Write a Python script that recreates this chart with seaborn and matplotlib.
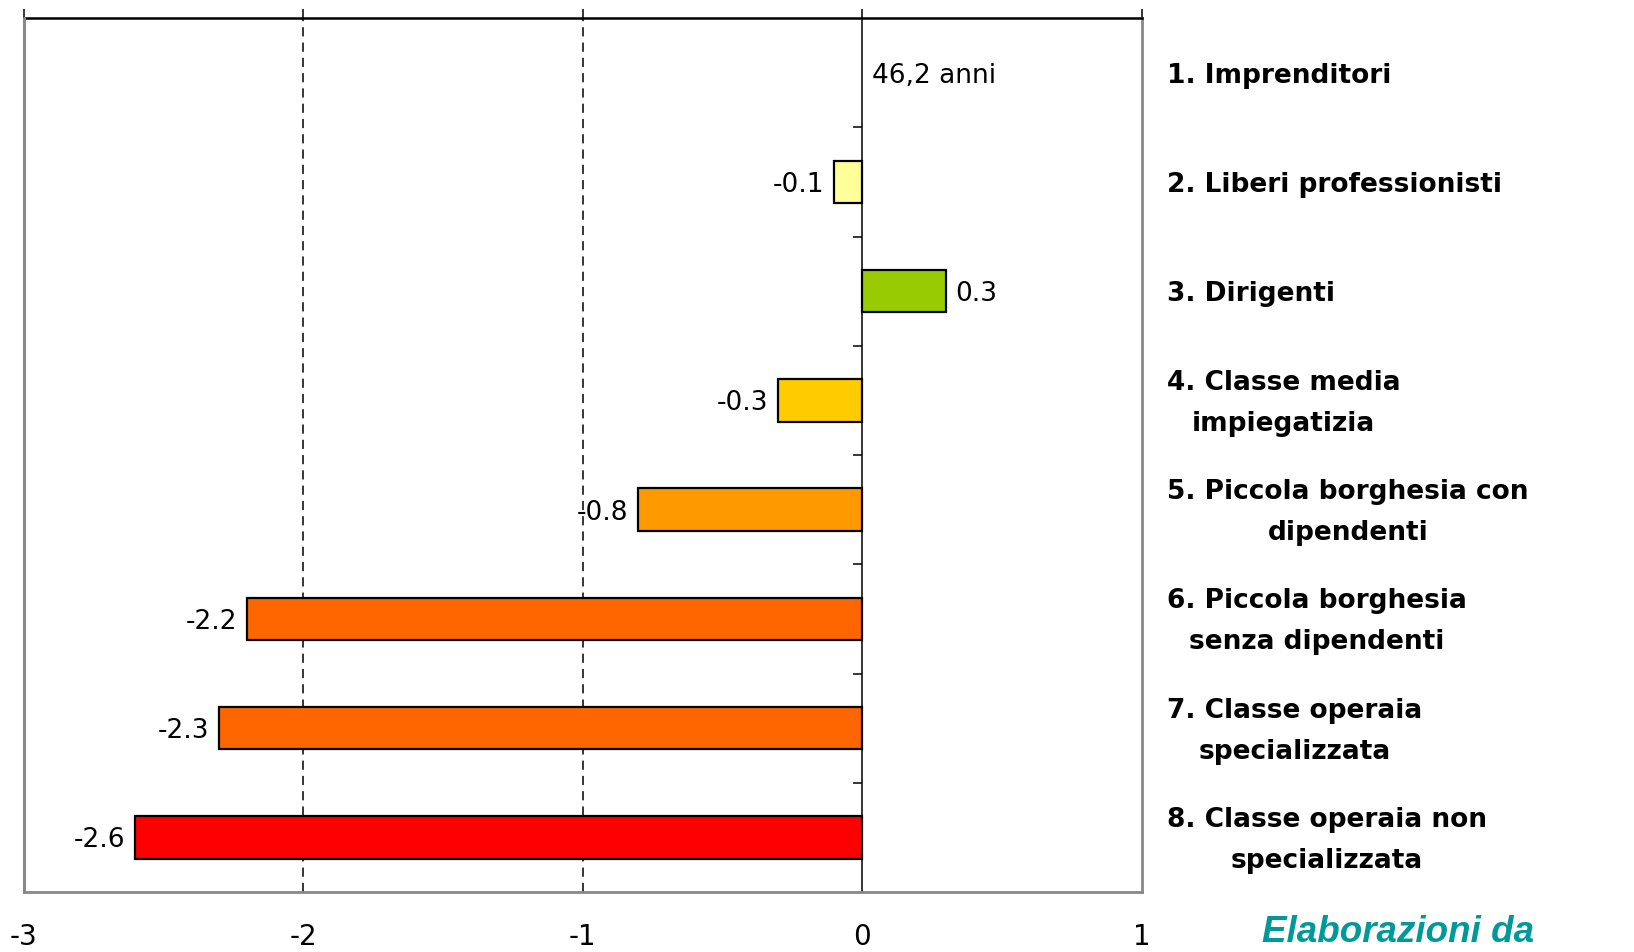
import matplotlib
matplotlib.use("Agg")
import matplotlib.pyplot as plt
from matplotlib.lines import Line2D
import seaborn as sns
import pandas as pd

# Categories (top to bottom), differences in years vs. reference class, colours
categories = [
    "1. Imprenditori",
    "2. Liberi professionisti",
    "3. Dirigenti",
    "4. Classe media\nimpiegatizia",
    "5. Piccola borghesia con\ndipendenti",
    "6. Piccola borghesia\nsenza dipendenti",
    "7. Classe operaia\nspecializzata",
    "8. Classe operaia non\nspecializzata",
]
values = [0.0, -0.1, 0.3, -0.3, -0.8, -2.2, -2.3, -2.6]
value_labels = ["46,2 anni", "-0.1", "0.3", "-0.3", "-0.8", "-2.2", "-2.3", "-2.6"]
bar_colors = ["#FFFFFF", "#FFFF99", "#99CC00", "#FFCC00", "#FF9900",
              "#FF6600", "#FF6600", "#FF0000"]
x_ticks = [-3, -2, -1, 0, 1]
source_note = "Elaborazioni da"

sns.set_style("white")
plt.rcParams["font.family"] = ["DejaVu Sans"]
plt.rcParams["text.color"] = "black"
plt.rcParams["xtick.color"] = "black"
plt.rcParams["ytick.color"] = "black"

df = pd.DataFrame({"categoria": categories, "valore": values})

fig = plt.figure(figsize=(16.34, 9.52), dpi=100)
ax = fig.add_axes([0.0144, 0.063, 0.6842, 0.918])

sns.barplot(data=df, x="valore", y="categoria", hue="categoria",
            palette=dict(zip(categories, bar_colors)), orient="h",
            width=0.39, edgecolor="black", linewidth=1.6, legend=False,
            dodge=False, saturation=1, ax=ax)

ax.set_xlim(x_ticks[0], x_ticks[-1])
ax.set_ylim(len(categories) - 0.5, -0.5)

# zero-width reference bar: no outline
for patch, v in zip(ax.patches, values):
    if v == 0:
        patch.set_linewidth(0)

# vertical dashed grid
ax.set_xticks(x_ticks)
for t in x_ticks[1:3]:
    ax.axvline(t, color="black", lw=1.1, ls=(0, (6, 4)), zorder=0.5)

# zero axis carrying the category separators
ax.spines["left"].set_position(("data", 0))
ax.spines["left"].set_color("black")
ax.spines["left"].set_linewidth(1.1)
ax.set_yticks([i + 0.5 for i in range(len(categories) - 1)])
ax.set_yticklabels([])
ax.tick_params(axis="y", direction="out", length=6.5, width=1.1, color="black", left=True)

# frame
for s in ["right", "bottom"]:
    ax.spines[s].set_color("#888888")
    ax.spines[s].set_linewidth(2)
ax.spines["top"].set_color("black")
ax.spines["top"].set_linewidth(1.8)
ax.add_line(Line2D([0, 0], [0, 1], transform=ax.transAxes, color="#888888",
                   lw=2.2, clip_on=False, zorder=3))

ax.tick_params(axis="x", which="both", bottom=False, top=True, direction="out",
               length=6.5, width=1.1, color="black", labelsize=20, pad=16)
ax.set_xticklabels([str(t) for t in x_ticks])
ax.set_xlabel("")
ax.set_ylabel("")

# value labels at bar ends
for i, (v, lab) in enumerate(zip(values, value_labels)):
    off = 7 if v >= 0 else -7
    ax.annotate(lab, xy=(v, i), xytext=(off, 0), textcoords="offset points",
                ha="left" if v >= 0 else "right", va="center_baseline", fontsize=19)

# category names to the right of the plot
for i, name in enumerate(categories):
    ax.annotate(name, xy=(1.0228, i), xycoords=ax.get_yaxis_transform(),
                xytext=(0, -2.2), textcoords="offset points",
                ha="left", va="center", multialignment="center",
                fontsize=19, fontweight="bold", linespacing=1.75)

fig.text(0.7725, 0.002, source_note, color="#009999", fontsize=26.5,
         fontweight="bold", fontstyle="italic", family="Liberation Sans",
         ha="left", va="bottom")

fig.savefig("out.png", dpi=100)
